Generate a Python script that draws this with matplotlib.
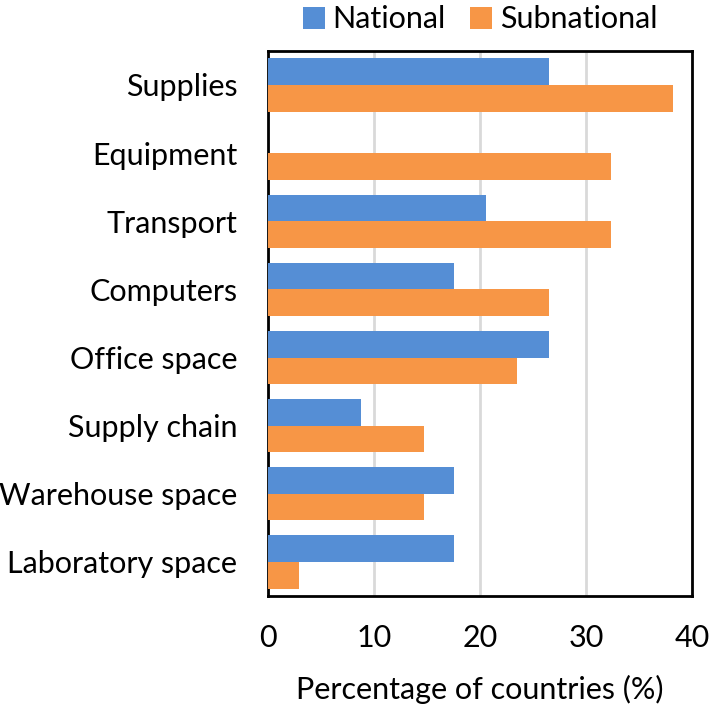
import numpy as np
import matplotlib.pyplot as plt

# ----------------------------------------------------------
# DATA
# ----------------------------------------------------------
categories = ["Supplies", "Equipment", "Transport", "Computers",
              "Office space", "Supply chain", "Warehouse space", "Laboratory space"]
national = [26.5, 0, 20.6, 17.6, 26.5, 8.8, 17.6, 17.6]
subnational = [38.2, 32.4, 32.4, 26.5, 23.5, 14.7, 14.7, 2.9]

BLUE = "#558ED5"
ORANGE = "#F79646"
FS = 22

plt.rcParams["font.family"] = ["Lato", "DejaVu Sans"]

# ----------------------------------------------------------
# PLOT
# ----------------------------------------------------------
fig = plt.figure(figsize=(7.11, 7.07), dpi=100)
ax = fig.add_axes([0.377, 0.157, 0.596, 0.771])

y = np.arange(len(categories))
h = 0.39
ax.barh(y - h / 2, national, height=h, color=BLUE, label="National", zorder=3)
ax.barh(y + h / 2, subnational, height=h, color=ORANGE, label="Subnational", zorder=3)

ax.set_xlim(0, 40)
ax.set_ylim(len(categories) - 0.5, -0.5)
ax.set_xticks([0, 10, 20, 30, 40])
ax.set_yticks(y)
ax.set_yticklabels(categories)
ax.tick_params(axis="both", length=0, labelsize=FS)
ax.tick_params(axis="x", pad=20)
ax.tick_params(axis="y", pad=22)
ax.grid(axis="x", color="#D9D9D9", linewidth=2, zorder=0)
for s in ax.spines.values():
    s.set_linewidth(2)
    s.set_color("black")

ax.set_xlabel("Percentage of countries (%)", fontsize=FS, labelpad=17)

ax.legend(loc="center", bbox_to_anchor=(0.5, 1.058), ncol=2, frameon=False,
          fontsize=FS, handlelength=0.72, handleheight=0.72, handletextpad=0.25,
          columnspacing=0.8, borderaxespad=0)

plt.savefig("out.png", dpi=100)
plt.close()
